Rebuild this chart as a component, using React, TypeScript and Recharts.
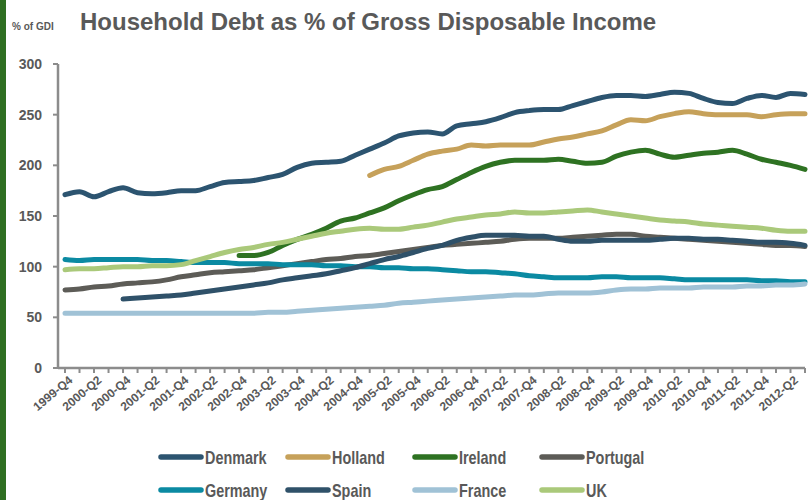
import { CartesianGrid, Line, LineChart, XAxis, YAxis } from 'recharts';

const quarters = [
  '1999-Q4', '2000-Q1', '2000-Q2', '2000-Q3', '2000-Q4', '2001-Q1', '2001-Q2', '2001-Q3', '2001-Q4',
  '2002-Q1', '2002-Q2', '2002-Q3', '2002-Q4', '2003-Q1', '2003-Q2', '2003-Q3', '2003-Q4',
  '2004-Q1', '2004-Q2', '2004-Q3', '2004-Q4', '2005-Q1', '2005-Q2', '2005-Q3', '2005-Q4',
  '2006-Q1', '2006-Q2', '2006-Q3', '2006-Q4', '2007-Q1', '2007-Q2', '2007-Q3', '2007-Q4',
  '2008-Q1', '2008-Q2', '2008-Q3', '2008-Q4', '2009-Q1', '2009-Q2', '2009-Q3', '2009-Q4',
  '2010-Q1', '2010-Q2', '2010-Q3', '2010-Q4', '2011-Q1', '2011-Q2', '2011-Q3', '2011-Q4',
  '2012-Q1', '2012-Q2', '2012-Q3',
];

const denmark = [
  171, 174, 169, 174, 178, 173, 172, 173, 175, 175, 179, 183, 184, 185, 188, 191, 198, 202, 203, 204,
  210, 216, 222, 229, 232, 233, 231, 239, 241, 243, 247, 252, 254, 255, 255, 259, 263, 267, 269, 269,
  268, 270, 272, 271, 266, 262, 261, 266, 269, 267, 271, 270,
];
const holland = [
  null, null, null, null, null, null, null, null, null, null, null, null, null, null, null, null, null,
  null, null, null, null,
  190, 196, 199, 205, 211, 214, 216, 220, 219, 220, 220, 220, 223, 226, 228, 231, 234, 240, 245, 244,
  248, 251, 253, 251, 250, 250, 250, 248, 250, 251, 251,
];
const ireland = [
  null, null, null, null, null, null, null, null, null, null, null, null,
  111, 111, 114, 121, 127, 132, 138, 145, 148, 153, 158, 165, 171, 176, 179, 186, 193, 199, 203, 205,
  205, 205, 206, 204, 202, 203, 209, 213, 215, 211, 208, 210, 212, 213, 215, 211, 206, 203, 200, 196,
];
const portugal = [
  77, 78, 80, 81, 83, 84, 85, 87, 90, 92, 94, 95, 96, 97, 99, 101, 103, 105, 107, 108,
  110, 111, 113, 115, 117, 119, 121, 122, 123, 124, 125, 127, 128, 128, 128, 129, 130, 131, 132, 132,
  130, 129, 128, 127, 126, 125, 124, 123, 122, 121, 121, 120,
];
const germany = [
  107, 106, 107, 107, 107, 107, 106, 106, 105, 104, 104, 104, 103, 103, 103, 102, 102, 102, 101, 101,
  100, 100, 99, 99, 98, 98, 97, 96, 95, 95, 94, 93, 91, 90, 89, 89, 89, 90, 90, 89,
  89, 89, 88, 87, 87, 87, 87, 87, 86, 86, 85, 85,
];
const spain = [
  null, null, null, null,
  68, 69, 70, 71, 72, 74, 76, 78, 80, 82, 84, 87, 89, 91, 93, 96, 99, 103, 107, 110, 114, 118, 121,
  126, 129, 131, 131, 131, 130, 130, 127, 125, 125, 126, 126, 126, 126, 127, 128, 128, 127, 127, 126,
  125, 124, 124, 123, 121,
];
const france = [
  54, 54, 54, 54, 54, 54, 54, 54, 54, 54, 54, 54, 54, 54, 55, 55, 56, 57, 58, 59,
  60, 61, 62, 64, 65, 66, 67, 68, 69, 70, 71, 72, 72, 73, 74, 74, 74, 75, 77, 78,
  78, 79, 79, 79, 80, 80, 80, 81, 81, 82, 82, 83,
];
const uk = [
  97, 98, 98, 99, 100, 100, 101, 101, 102, 106, 110, 114, 117, 119, 122, 124, 127, 130, 133, 135,
  137, 138, 137, 137, 139, 141, 144, 147, 149, 151, 152, 154, 153, 153, 154, 155, 156, 154, 152, 150,
  148, 146, 145, 144, 142, 141, 140, 139, 138, 136, 135, 135,
];

const yTicks = [0, 50, 100, 150, 200, 250, 300];

const series = [
  { key: 'Denmark', values: denmark, color: '#2c5470' },
  { key: 'Holland', values: holland, color: '#c6a15a' },
  { key: 'Ireland', values: ireland, color: '#2e7222' },
  { key: 'Portugal', values: portugal, color: '#5d5c57' },
  { key: 'Germany', values: germany, color: '#0b8aa2' },
  { key: 'Spain', values: spain, color: '#2f5169' },
  { key: 'France', values: france, color: '#a0c2d6' },
  { key: 'UK', values: uk, color: '#aac97a' },
];

const data = quarters.map((q, i) => {
  const row: Record<string, string | number | null> = { quarter: q };
  series.forEach((s) => {
    row[s.key] = s.values[i];
  });
  return row;
});

const textGray = '#595959';
const axisGray = '#8c8c8c';
const font = "'Liberation Sans', Arial, sans-serif";

function QuarterTick(props: any) {
  const { x, y, payload, index } = props;
  if (index % 2 !== 0) return <g />;
  return (
    <text
      x={x + 3}
      y={y}
      dy="0.7em"
      textAnchor="end"
      transform={`rotate(-40, ${x + 3}, ${y})`}
      fill={textGray}
      fontSize={12}
      fontWeight="bold"
      fontFamily={font}
    >
      {payload.value}
    </text>
  );
}

// legend text in the original is a narrow face, so squeeze it horizontally
function ChartLegend() {
  const colX = [158, 285, 412, 539];
  const rowY = [457, 490];
  return (
    <svg width={808} height={500} style={{ position: 'absolute', left: 0, top: 0, pointerEvents: 'none' }}>
      {series.map((s, i) => {
        const x = colX[i % 4];
        const y = rowY[Math.floor(i / 4)];
        return (
          <g key={s.key}>
            <line x1={x + 3} x2={x + 43} y1={y} y2={y} stroke={s.color} strokeWidth={5.5} strokeLinecap="round" />
            <text
              transform={`translate(${x + 47}, ${y + 6.5}) scale(0.8, 1)`}
              fill={textGray}
              fontSize={18}
              fontWeight="bold"
              fontFamily={font}
            >
              {s.key}
            </text>
          </g>
        );
      })}
    </svg>
  );
}

export default function App() {
  return (
    <div
      style={{
        position: 'absolute',
        left: 0,
        top: 0,
        width: 808,
        height: 500,
        background: '#fff',
        overflow: 'hidden',
      }}
    >
      <div style={{ position: 'absolute', left: 0, top: 0, width: 6, height: 500, background: '#2f6f22' }} />
      <svg width={808} height={60} style={{ position: 'absolute', left: 0, top: 0 }}>
        <text x={12} y={30} fill={textGray} fontSize={10} fontWeight="bold" fontFamily={font}>
          % of GDI
        </text>
        <text x={80} y={30} fill={textGray} fontSize={24} fontWeight="bold" fontFamily={font}>
          Household Debt as % of Gross Disposable Income
        </text>
      </svg>
      <div style={{ position: 'absolute', left: 0, top: 0 }}>
        <LineChart width={808} height={500} data={data} margin={{ top: 64, right: 3, left: 0, bottom: 0 }}>
          <CartesianGrid stroke="none" />
          <XAxis
            dataKey="quarter"
            interval={0}
            height={132}
            padding={{ left: 7, right: 0 }}
            tick={QuarterTick}
            tickSize={5}
            tickLine={{ stroke: axisGray, strokeWidth: 2 }}
            axisLine={{ stroke: axisGray, strokeWidth: 2.5 }}
          />
          <YAxis
            domain={[0, 300]}
            ticks={yTicks}
            width={58}
            tickSize={5}
            tickMargin={11}
            tickLine={{ stroke: axisGray, strokeWidth: 2 }}
            axisLine={{ stroke: axisGray, strokeWidth: 2.5 }}
            tick={{ fill: textGray, fontSize: 14, fontWeight: 'bold', fontFamily: font }}
          />
          {series.map((s) => (
            <Line
              key={s.key}
              type="monotone"
              dataKey={s.key}
              stroke={s.color}
              strokeWidth={5}
              strokeLinecap="round"
              dot={false}
              activeDot={false}
              connectNulls={false}
              isAnimationActive={false}
            />
          ))}
        </LineChart>
      </div>
      <ChartLegend />
    </div>
  );
}
